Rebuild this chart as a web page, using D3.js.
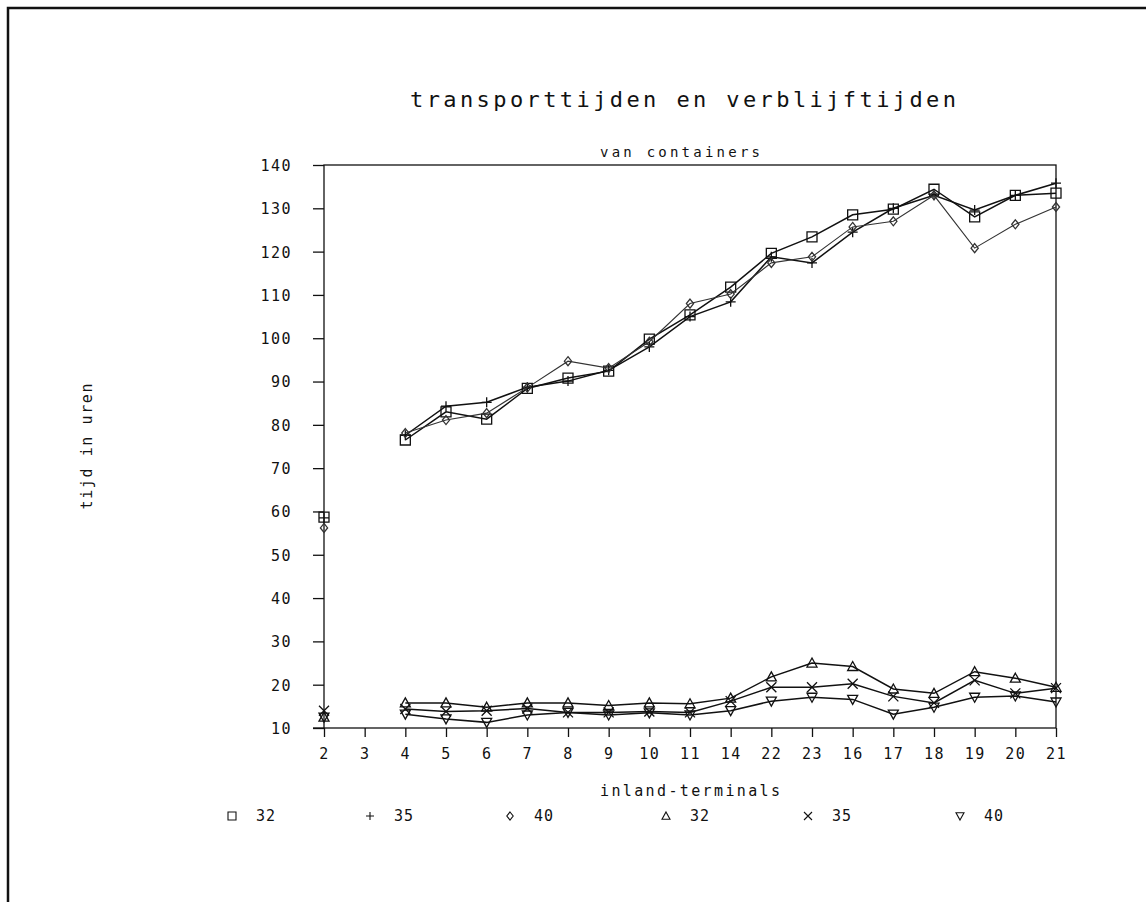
<!DOCTYPE html>
<html lang="nl">
<head>
    <meta charset="UTF-8">
    <title>transporttijden en verblijftijden</title>
    <script src="https://d3js.org/d3.v7.min.js"></script>
    <style>
        body { margin: 0; background: #fff; }
        text { font-family: "DejaVu Sans Mono", monospace; fill: #111; }
    </style>
</head>
<body>
    <svg id="chart"></svg>

    <script>
        // inland-terminals (x axis, in plotted order)
        var terminals = ["2", "3", "4", "5", "6", "7", "8", "9", "10", "11", "14", "22", "23", "16", "17", "18", "19", "20", "21"];
        var yTicks = [10, 20, 30, 40, 50, 60, 70, 80, 90, 100, 110, 120, 130, 140];

        // transporttijden (upper group)
        var sq32   = [58.7, null, 76.5, 83.0, 81.3, 88.4, 90.8, 92.4, 99.8, 105.4, 111.8, 119.6, 123.4, 128.5, 129.8, 134.4, 128.0, 133.0, 133.5];
        var plus35 = [58.5, null, 77.6, 84.3, 85.2, 88.7, 90.1, 92.6, 98.0, 105.0, 108.4, 118.8, 117.4, 124.5, 130.0, 133.0, 129.6, 133.0, 135.8];
        var dia40  = [56.2, null, 78.1, 81.1, 82.7, 88.6, 94.7, 93.1, 99.2, 108.0, 110.2, 117.4, 118.8, 125.7, 127.0, 133.0, 120.8, 126.3, 130.3];

        // verblijftijden (lower group)
        var tri32  = [12.5, null, 15.8, 15.8, 14.8, 15.8, 15.8, 15.2, 15.8, 15.6, 16.9, 21.8, 25.0, 24.2, 19.0, 18.0, 23.0, 21.5, 19.4];
        var x35    = [14.0, null, 14.4, 13.8, 14.0, 14.5, 13.6, 13.6, 13.8, 13.6, 16.2, 19.4, 19.4, 20.2, 17.3, 15.8, 21.0, 18.0, 19.2];
        var nab40  = [12.5, null, 13.2, 12.1, 11.3, 13.0, 13.6, 13.0, 13.5, 13.0, 14.0, 16.2, 17.1, 16.6, 13.2, 14.8, 17.1, 17.4, 16.0];

        var series = [
            {label: "32", values: sq32,   marker: "square"},
            {label: "35", values: plus35, marker: "plus"},
            {label: "40", values: dia40,  marker: "diamond"},
            {label: "32", values: tri32,  marker: "triangle"},
            {label: "35", values: x35,    marker: "cross"},
            {label: "40", values: nab40,  marker: "nabla"}
        ];

        var W = 1146, H = 902;
        var plotL = 324, plotR = 1056, plotT = 165, plotB = 728;

        var svg = d3.select("#chart").attr("width", W).attr("height", H);

        // page frame (scan edge)
        svg.append("path")
            .attr("d", "M8," + H + "V8H" + W)
            .attr("fill", "none")
            .attr("stroke", "#111")
            .attr("stroke-width", 2.5);

        var x = d3.scalePoint().domain(terminals).range([plotL, plotR]).padding(0);
        var y = d3.scaleLinear().domain([10, 140]).range([plotB, plotT]);

        // plot box
        svg.append("rect")
            .attr("x", plotL).attr("y", plotT)
            .attr("width", plotR - plotL).attr("height", plotB - plotT)
            .attr("fill", "none").attr("stroke", "#111").attr("stroke-width", 1.3);

        // y axis
        var yAxis = svg.append("g")
            .attr("transform", "translate(" + plotL + ",0)")
            .call(d3.axisLeft(y).tickValues(yTicks).tickSize(11).tickPadding(21));
        yAxis.select(".domain").remove();
        yAxis.selectAll("line").attr("stroke", "#111").attr("stroke-width", 1.3);
        yAxis.selectAll("text")
            .style("font-size", "15px").style("letter-spacing", "1.5px")
            .attr("fill", "#111").attr("dy", "0.36em");

        // x axis
        var xAxis = svg.append("g")
            .attr("transform", "translate(0," + plotB + ")")
            .call(d3.axisBottom(x).tickSize(9).tickPadding(11));
        xAxis.select(".domain").remove();
        xAxis.selectAll("line").attr("stroke", "#111").attr("stroke-width", 1.3);
        xAxis.selectAll("text")
            .style("font-size", "15px").style("letter-spacing", "1.5px")
            .attr("fill", "#111");

        // base line runs a little left of the y axis
        svg.append("line")
            .attr("x1", plotL - 11).attr("x2", plotL)
            .attr("y1", plotB).attr("y2", plotB)
            .attr("stroke", "#111").attr("stroke-width", 1.3);

        // marker shapes
        function markerPath(type, s) {
            var h = s / 2;
            switch (type) {
                case "square":   return "M" + -h + "," + -h + "H" + h + "V" + h + "H" + -h + "Z";
                case "plus":     return "M" + -h + ",0H" + h + "M0," + -h + "V" + h;
                case "diamond":  return "M0," + -h + "L" + h * 0.8 + ",0L0," + h + "L" + -h * 0.8 + ",0Z";
                case "triangle": return "M0," + -h + "L" + h + "," + h * 0.8 + "H" + -h + "Z";
                case "nabla":    return "M0," + h + "L" + h + "," + -h * 0.8 + "H" + -h + "Z";
                case "cross":    return "M" + -h + "," + -h + "L" + h + "," + h + "M" + h + "," + -h + "L" + -h + "," + h;
            }
        }

        var line = d3.line()
            .defined(d => d != null)
            .x((d, i) => x(terminals[i]))
            .y(d => y(d));

        series.forEach(function (s) {
            var col = s.marker === "diamond" ? "#333" : "#111";
            svg.append("path")
                .datum(s.values)
                .attr("d", line)
                .attr("fill", "none")
                .attr("stroke", col)
                .attr("stroke-width", s.marker === "diamond" ? 1.1 : 1.5);

            svg.append("g").selectAll("path")
                .data(s.values.map((v, i) => ({v: v, t: terminals[i]})).filter(d => d.v != null))
                .join("path")
                .attr("transform", d => "translate(" + x(d.t) + "," + y(d.v) + ")")
                .attr("d", markerPath(s.marker, s.marker === "diamond" ? 9 : 10))
                .attr("fill", "none")
                .attr("stroke", col)
                .attr("stroke-width", 1.3);
        });

        // titles
        svg.append("text")
            .attr("x", 683).attr("y", 107)
            .attr("text-anchor", "middle")
            .attr("textLength", 546).attr("lengthAdjust", "spacing")
            .style("font-size", "22px")
            .text("transporttijden en verblijftijden");

        svg.append("text")
            .attr("x", 680).attr("y", 157)
            .attr("text-anchor", "middle")
            .attr("textLength", 160).attr("lengthAdjust", "spacing")
            .style("font-size", "14px")
            .text("van containers");

        svg.append("text")
            .attr("transform", "translate(92," + (plotT + plotB) / 2 + ") rotate(-90)")
            .attr("text-anchor", "middle")
            .attr("textLength", 126).attr("lengthAdjust", "spacing")
            .style("font-size", "15px")
            .text("tijd in uren");

        svg.append("text")
            .attr("x", 690).attr("y", 796)
            .attr("text-anchor", "middle")
            .attr("textLength", 180).attr("lengthAdjust", "spacing")
            .style("font-size", "15px")
            .text("inland-terminals");

        // legend
        var legendX = [232, 370, 510, 666, 808, 960];
        var legend = svg.append("g").selectAll("g")
            .data(series)
            .join("g")
            .attr("transform", (d, i) => "translate(" + legendX[i] + ",816)");
        legend.append("path")
            .attr("d", d => markerPath(d.marker, 8))
            .attr("fill", "none")
            .attr("stroke", "#111")
            .attr("stroke-width", 1.1);
        legend.append("text")
            .attr("x", 24).attr("dy", "0.36em")
            .style("font-size", "15px").style("letter-spacing", "1px")
            .text(d => d.label);
    </script>
</body>
</html>
